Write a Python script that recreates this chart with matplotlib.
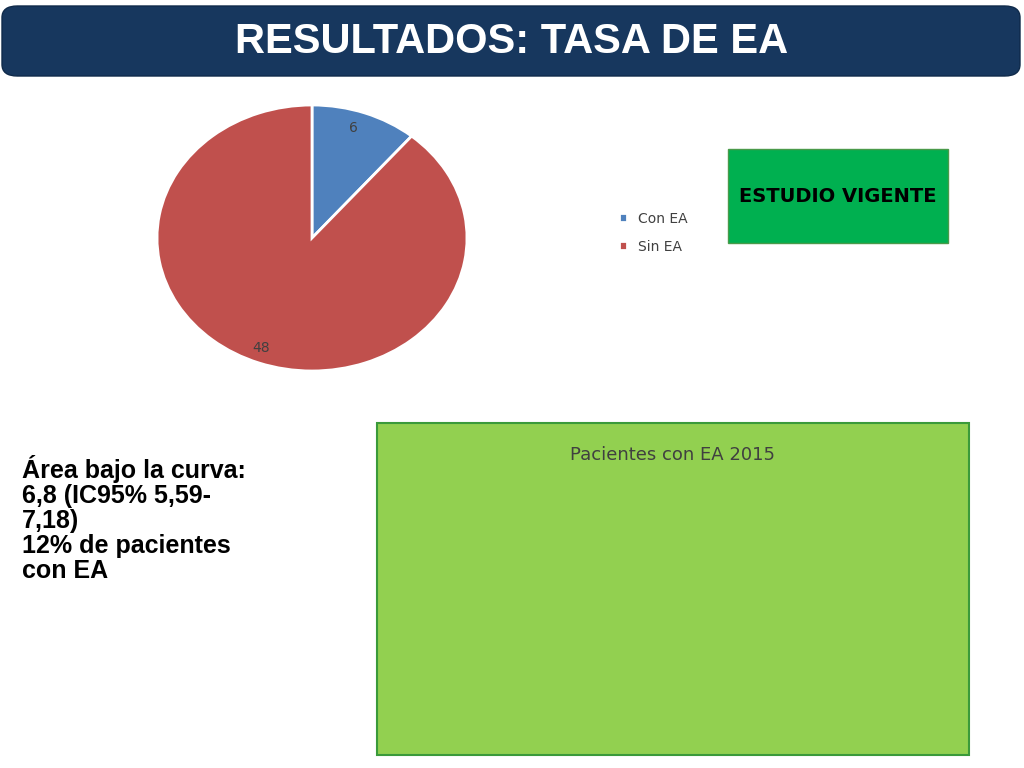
import matplotlib
matplotlib.use("Agg")
import matplotlib.pyplot as plt
from matplotlib.patches import FancyBboxPatch, Rectangle

W, H = 1024, 768

pie_labels = ["Con EA", "Sin EA"]
pie_values = [6, 48]
pie_colors = ["#4f81bd", "#c0504d"]

months = ["Diciembre", "Enero", "Febrero", "Marzo"]
patients = [15, 10, 15, 20]
y_ticks = [0, 5, 10, 15, 20, 25]


def px_axes(fig, x0, y0, x1, y1):
    # pixel box (top-left origin) -> figure axes
    return fig.add_axes([x0 / W, 1 - y1 / H, (x1 - x0) / W, (y1 - y0) / H])


fig = plt.figure(figsize=(W / 100, H / 100), dpi=100)
fig.patch.set_facecolor("white")

# title bar
fig.patches.append(FancyBboxPatch((2 / W, 1 - 76 / H), 1018 / W, 70 / H,
                                  boxstyle="round,pad=0,rounding_size=0.015",
                                  transform=fig.transFigure, facecolor="#17375e",
                                  edgecolor="#0f2a4a", linewidth=1))
fig.text(512 / W, 1 - 42 / H, "RESULTADOS: TASA DE EA", color="white",
         fontsize=30, fontweight="bold", ha="center", va="center",
         family="Liberation Sans", fontstretch="condensed")

# pie
ax = px_axes(fig, 157, 105, 467, 371)
wedges, _ = ax.pie(pie_values, colors=pie_colors, startangle=90, counterclock=False,
                   wedgeprops=dict(edgecolor="white", linewidth=2), radius=1)
ax.set_aspect("auto")
ax.set_xlim(-1, 1)
ax.set_ylim(-1, 1)
ax.text(0.27, 0.83, str(pie_values[0]), fontsize=10, color="#404040", ha="center", va="center")
ax.text(-0.33, -0.83, str(pie_values[1]), fontsize=10, color="#404040", ha="center", va="center")
ax.legend(wedges, pie_labels, loc="center left", bbox_to_anchor=(1.45, 0.52),
          frameon=False, fontsize=10, labelcolor="#404040", handlelength=0.6,
          handleheight=0.6, labelspacing=1.0)

# green box
fig.patches.append(Rectangle((728 / W, 1 - 243 / H), 220 / W, 94 / H,
                             transform=fig.transFigure, facecolor="#00b050",
                             edgecolor="#4a9a4a", linewidth=1))
fig.text(838 / W, 1 - 196 / H, "ESTUDIO VIGENTE", fontsize=14, fontweight="bold",
         ha="center", va="center", color="black")

# left text
fig.text(22 / W, 1 - 455 / H,
         "Área bajo la curva:\n6,8 (IC95% 5,59-\n7,18)\n12% de pacientes\ncon EA",
         fontsize=18, fontweight="bold", ha="left", va="top", family="Liberation Sans",
         linespacing=1.05)

# line chart box
fig.patches.append(Rectangle((377 / W, 1 - 755 / H), 592 / W, 332 / H,
                             transform=fig.transFigure, facecolor="#92d050",
                             edgecolor="#3a9a3a", linewidth=1.5))
fig.text(673 / W, 1 - 455 / H, "Pacientes con EA 2015", fontsize=13, color="#404040",
         ha="center", va="center")
ax2 = px_axes(fig, 423, 485, 943, 715)
ax2.set_facecolor("none")
ax2.plot(range(len(months)), patients, color="#4a7ebb", linewidth=3)
ax2.set_xlim(-0.5, len(months) - 0.5)
ax2.set_ylim(0, 25)
ax2.set_yticks(y_ticks)
ax2.set_xticks(range(len(months)))
ax2.set_xticklabels(months)
ax2.grid(axis="y", color="white", linewidth=1)
ax2.set_axisbelow(True)
for s in ax2.spines.values():
    s.set_visible(False)
ax2.tick_params(length=0, labelsize=9, colors="#404040")
ax2.tick_params(axis="x", pad=10)
ax2.tick_params(axis="y", pad=14)

fig.savefig("out.png", dpi=100)
